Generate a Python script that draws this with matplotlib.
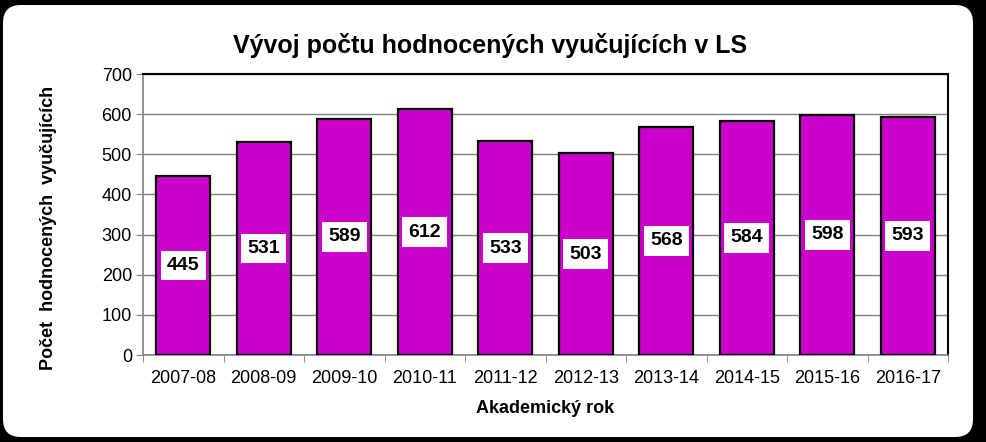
import matplotlib.pyplot as plt
from matplotlib.patches import FancyBboxPatch
import numpy as np

plt.rcParams['font.family'] = ['Liberation Sans', 'DejaVu Sans']

years = ['2007-08', '2008-09', '2009-10', '2010-11', '2011-12',
         '2012-13', '2013-14', '2014-15', '2015-16', '2016-17']
counts = [445, 531, 589, 612, 533, 503, 568, 584, 598, 593]

fig = plt.figure(figsize=(9.86, 4.42), dpi=100)
fig.patch.set_facecolor('black')

# rounded white frame
frame = FancyBboxPatch((3 / 986, 5 / 442), 970 / 986, 432 / 442,
                       boxstyle='round,pad=0,rounding_size=0.018',
                       transform=fig.transFigure, facecolor='white',
                       edgecolor='none', mutation_aspect=986 / 442, zorder=-1)
fig.patches.append(frame)

ax = fig.add_axes([143 / 986, 1 - 355 / 442, 805 / 986, 281 / 442])
ax.set_zorder(1)
x = np.arange(len(years))
ax.bar(x, counts, width=0.67, color='#CC00CC', edgecolor='black', linewidth=1.6, zorder=3)

for xi, v in zip(x, counts):
    ax.text(xi, v / 2, str(v), ha='center', va='center', fontsize=14, fontweight='bold',
            bbox=dict(facecolor='white', edgecolor='none', pad=4.5), zorder=4)

ax.set_xlim(-0.5, len(years) - 0.5)
ax.set_ylim(0, 700)
ax.set_yticks(range(0, 701, 100))
ax.yaxis.grid(True, color='#808080', linewidth=1)
ax.set_axisbelow(True)

ax.set_xticks(x)
ax.set_xticklabels(years, fontsize=13)
ax.set_xticks(np.arange(-0.5, len(years)), minor=True)
ax.tick_params(axis='x', which='major', length=0, pad=11)
ax.tick_params(axis='x', which='minor', length=5, color='#808080')
ax.tick_params(axis='y', length=5, color='#808080', labelsize=13, pad=3)

for s in ['top', 'right']:
    ax.spines[s].set_color('black')
    ax.spines[s].set_linewidth(1.5)
for s in ['left', 'bottom']:
    ax.spines[s].set_color('#808080')
    ax.spines[s].set_linewidth(1.2)

ax.set_xlabel('Akademický rok', fontsize=13, fontweight='bold', labelpad=9)
ax.set_ylabel('Počet  hodnocených  vyučujících', fontsize=13, fontweight='bold')
ax.yaxis.set_label_coords(-0.107, 0.452)
fig.text(490 / 986, 1 - 45 / 442, 'Vývoj počtu hodnocených vyučujících v LS',
         ha='center', va='center', fontsize=18, fontweight='bold')

fig.savefig('out.png', dpi=100, facecolor=fig.get_facecolor())
